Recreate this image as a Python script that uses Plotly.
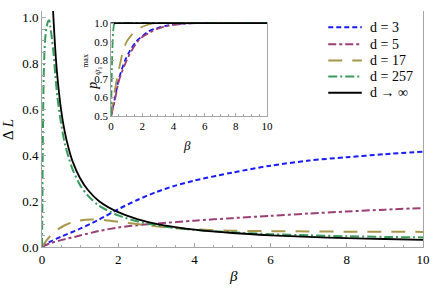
import plotly.graph_objects as go

# ---------------- data ----------------
beta_d3 = [0, 0.2, 0.5, 1.0, 1.5, 2.0, 2.5, 3.0, 3.5, 4.0, 5.0, 6.0, 7.0, 8.0, 9.0, 10.0]
dL_d3 = [0, 0.022, 0.045, 0.08, 0.12, 0.165, 0.205, 0.24, 0.268, 0.29, 0.325, 0.355, 0.377, 0.392, 0.405, 0.416]

beta_d5 = [0, 0.2, 0.5, 1.0, 1.5, 2.0, 2.5, 3.0, 4.0, 5.0, 6.0, 7.0, 8.0, 9.0, 10.0]
dL_d5 = [0, 0.016, 0.03, 0.05, 0.07, 0.085, 0.095, 0.102, 0.115, 0.126, 0.136, 0.146, 0.155, 0.163, 0.17]

beta_d17 = [0, 0.1, 0.2, 0.4, 0.6, 0.8, 1.0, 1.3, 1.6, 2.0, 2.5, 3.0, 3.5, 4.0, 5.0, 6.0, 7.0, 8.0, 10.0]
dL_d17 = [0, 0.025, 0.045, 0.075, 0.095, 0.108, 0.116, 0.12, 0.118, 0.11, 0.1, 0.09, 0.082, 0.077, 0.071, 0.069, 0.068, 0.067, 0.066]

beta_d257 = [0, 0.01, 0.02, 0.035, 0.05, 0.08, 0.12, 0.16, 0.19, 0.22, 0.26, 0.3, 0.35, 0.4, 0.5,
             0.6, 0.7, 0.8, 1.0, 1.2, 1.5, 2.0, 2.5, 3.0, 3.5, 4.0, 5.0, 6.0, 7.0, 8.0, 9.0, 10.0]
dL_d257 = [0, 0.2, 0.42, 0.65, 0.78, 0.9, 0.96, 0.985, 0.99, 0.96, 0.91, 0.85, 0.75, 0.66, 0.54,
           0.45, 0.39, 0.34, 0.27, 0.225, 0.18, 0.138, 0.112, 0.095, 0.083, 0.075, 0.064, 0.056, 0.051, 0.047, 0.044, 0.042]

beta_inf = [0.28, 0.3, 0.35, 0.4, 0.5, 0.6, 0.7, 0.8, 1.0, 1.2, 1.5, 2.0, 2.5, 3.0, 3.5, 4.0, 5.0, 6.0, 7.0, 8.0, 9.0, 10.0]
dL_inf = [1.07, 1.0, 0.857, 0.75, 0.6, 0.5, 0.43, 0.375, 0.3, 0.25, 0.2, 0.152, 0.122, 0.101, 0.087, 0.076, 0.061, 0.051, 0.044, 0.039, 0.035, 0.031]

# inset: p_max
ib_d3 = [0, 0.25, 0.5, 0.9, 1.2, 1.6, 2.0, 2.4, 3.0, 3.5, 4.0, 5.0, 6.0, 10.0]
ip_d3 = [0.5, 0.6, 0.7, 0.8, 0.85, 0.9, 0.93, 0.955, 0.975, 0.985, 0.993, 0.999, 1.0, 1.0]

ib_d5 = [0, 0.25, 0.5, 1.0, 1.3, 1.7, 2.0, 2.5, 3.0, 3.5, 4.0, 5.0, 6.0, 10.0]
ip_d5 = [0.5, 0.59, 0.69, 0.8, 0.85, 0.9, 0.925, 0.95, 0.97, 0.982, 0.99, 0.998, 1.0, 1.0]

ib_d17 = [0, 0.1, 0.2, 0.4, 0.6, 0.8, 1.0, 1.25, 1.5, 2.0, 2.5, 3.0, 10.0]
ip_d17 = [0.5, 0.57, 0.62, 0.71, 0.79, 0.86, 0.9, 0.93, 0.955, 0.98, 0.995, 1.0, 1.0]

ib_d257 = [0, 0.02, 0.05, 0.1, 0.15, 0.2, 0.3, 10.0]
ip_d257 = [0.5, 0.6, 0.75, 0.9, 0.97, 0.995, 1.0, 1.0]

ib_inf = [0, 10.0]
ip_inf = [1.0, 1.0]

names = ["d = 3", "d = 5", "d = 17", "d = 257", "d \u2192 \u221e"]
colors = ["#1a1aff", "#9b3f74", "#a8974a", "#3a9a5c", "#000000"]
dashes = ["5px,3px", "8px,3px,3px,3px", "14px,10px", "9px,3px,2px,3px", "solid"]

x_ticks = [0, 2, 4, 6, 8, 10]
y_ticks = [0.0, 0.2, 0.4, 0.6, 0.8, 1.0]
iy_ticks = [0.5, 0.6, 0.7, 0.8, 0.9, 1.0]

main_series = [(beta_d3, dL_d3), (beta_d5, dL_d5), (beta_d17, dL_d17), (beta_d257, dL_d257), (beta_inf, dL_inf)]
inset_series = [(ib_d3, ip_d3), (ib_d5, ip_d5), (ib_d17, ip_d17), (ib_d257, ip_d257), (ib_inf, ip_inf)]

# ---------------- figure ----------------
W, H = 436, 288
PLOT_L, PLOT_R, PLOT_T, PLOT_B = 42, 428, 6, 247  # page pixels
L = PLOT_L
R = W - PLOT_R
T = PLOT_T
B = H - PLOT_B
PW, PH = PLOT_R - PLOT_L, PLOT_B - PLOT_T
Y_PER_UNIT = 234.0


def px(xp):
    return (xp - PLOT_L) / PW


def py(yp):
    return (PLOT_B - yp) / PH


fig = go.Figure()
for i, (xs, ys) in enumerate(main_series):
    fig.add_trace(go.Scatter(
        x=xs, y=ys, mode="lines", name=names[i], showlegend=False,
        line=dict(color=colors[i], width=2.0 if i < 4 else 1.8, dash=dashes[i], shape="spline", smoothing=0.8),
        xaxis="x", yaxis="y"))
for i, (xs, ys) in enumerate(inset_series):
    fig.add_trace(go.Scatter(
        x=xs, y=ys, mode="lines", name=names[i], showlegend=False,
        line=dict(color=colors[i], width=1.8 if i < 4 else 1.6, dash=dashes[i], shape="spline", smoothing=0.8),
        xaxis="x2", yaxis="y2"))

axis_col = "#a6a6a6"
font_family = "Liberation Serif, Times New Roman, Times, serif"

fig.update_layout(
    width=W, height=H,
    margin=dict(l=L, r=R, t=T, b=B, pad=0),
    paper_bgcolor="white", plot_bgcolor="white",
    font=dict(family=font_family, size=13, color="black"),
    showlegend=False,
    xaxis=dict(domain=[0, 1], range=[0, 10], tickvals=x_ticks, ticktext=[str(v) for v in x_ticks],
               showgrid=False, zeroline=False, showline=True, linecolor=axis_col, linewidth=1,
               ticks="inside", ticklen=4, tickcolor=axis_col, tickfont=dict(family=font_family, size=13),
               minor=dict(dtick=0.5, ticks="inside", ticklen=2.5, tickcolor=axis_col),
               mirror=False),
    yaxis=dict(domain=[0, 1], range=[0, PH / Y_PER_UNIT], tickvals=y_ticks, ticktext=["%.1f" % v for v in y_ticks],
               showgrid=False, zeroline=False, showline=True, linecolor=axis_col, linewidth=1,
               ticks="inside", ticklen=4, tickcolor=axis_col, tickfont=dict(family=font_family, size=13),
               minor=dict(dtick=0.05, ticks="inside", ticklen=2.5, tickcolor=axis_col),
               mirror=True),
    xaxis2=dict(domain=[px(112), px(270)], anchor="y2", range=[0, 10], tickvals=x_ticks,
                ticktext=[str(v) for v in x_ticks],
                showgrid=False, zeroline=False, showline=True, linecolor=axis_col, linewidth=1,
                ticks="inside", ticklen=3, tickcolor=axis_col, tickfont=dict(family=font_family, size=11),
                minor=dict(dtick=0.5, ticks="inside", ticklen=2, tickcolor=axis_col)),
    yaxis2=dict(domain=[py(113.3), py(17.2)], anchor="x2", range=[0.5, 1.006], tickvals=iy_ticks,
                ticktext=["%.1f" % v for v in iy_ticks],
                showgrid=False, zeroline=False, showline=True, linecolor=axis_col, linewidth=1,
                ticks="inside", ticklen=3, tickcolor=axis_col, tickfont=dict(family=font_family, size=11),
                mirror=True),
)

ann = [
    dict(text="<i>\u03b2</i>", x=px(236), y=py(277), font=dict(size=15)),
    dict(text="\u0394 <i>L</i>", x=px(8), y=py(127), textangle=-90, font=dict(size=15)),
    dict(text="<i>\u03b2</i>", x=px(189), y=py(143), font=dict(size=13)),
    dict(text="<i>p</i>", x=px(93), y=py(82), textangle=-90, font=dict(size=14)),
    dict(text="<i>\u03c8</i>\u2081", x=px(97), y=py(67), textangle=-90, font=dict(size=9)),
    dict(text="max", x=px(86.5), y=py(57), textangle=-90, font=dict(size=8)),
]
for a in ann:
    f = dict(family=font_family, color="black")
    f.update(a.pop("font"))
    fig.add_annotation(xref="paper", yref="paper", showarrow=False, xanchor="center", yanchor="middle",
                       font=f, **a)

# manual legend (line samples + labels)
legend_y = [22.7, 40, 56.5, 73, 89.5]
for i, yc in enumerate(legend_y):
    fig.add_shape(type="line", xref="paper", yref="paper", x0=px(332), x1=px(366), y0=py(yc), y1=py(yc),
                  line=dict(color=colors[i], width=2.0 if i < 4 else 1.8, dash=dashes[i]))
    fig.add_annotation(xref="paper", yref="paper", showarrow=False, xanchor="left", yanchor="middle",
                       x=px(372), y=py(yc), text=names[i],
                       font=dict(family=font_family, size=14, color="black"))

fig.write_html("out.html", config={"displayModeBar": False, "staticPlot": True},
               post_script="document.body.style.margin='0px';document.body.style.padding='0px';")
